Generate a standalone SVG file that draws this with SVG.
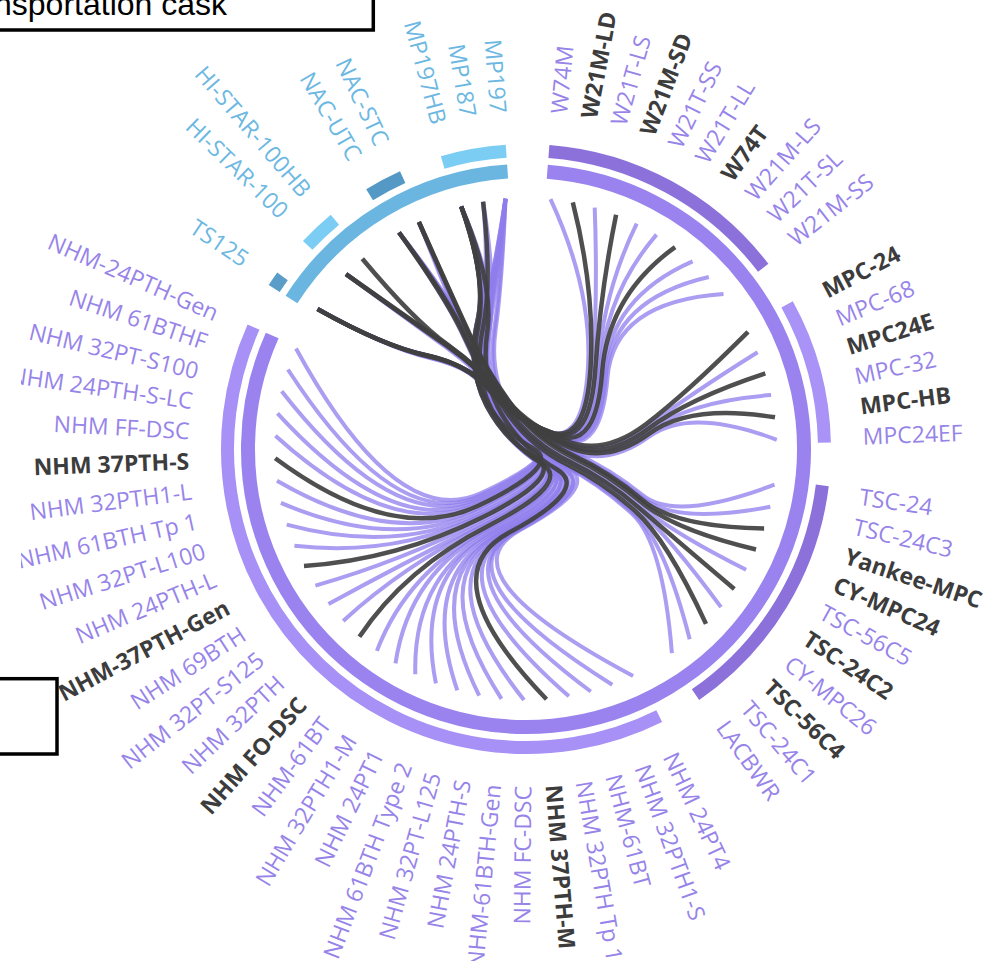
<svg xmlns="http://www.w3.org/2000/svg" width="1005" height="961" viewBox="0 0 1005 961">
<style>
.lbl{font-family:"Open Sans","Noto Sans","DejaVu Sans",sans-serif;font-size:23px}
.lt{fill:#9784e9}
.dk{fill:#3c3c3c;font-weight:700}
.bl{fill:#6cb8e2}
.ch{fill:none;stroke:#8f7cec;stroke-opacity:.75;stroke-width:4}
.chd{fill:none;stroke:#404040;stroke-opacity:.92;stroke-width:4.5}
.ring{fill:none;stroke-width:14}
.arc{fill:none;stroke-width:13}
.box{fill:none;stroke:#000;stroke-width:3.5}
</style>
<defs>
<clipPath id="chartclip"><rect x="21" y="0" width="984" height="961"/></clipPath>
</defs>
<rect x="0" y="0" width="1005" height="961" fill="#fff"/>

<g id="legend-transport">
<rect class="box" x="-10" y="-20" width="383.3" height="50"/>
<text x="-6" y="15" font-family="'Liberation Sans',Arial,sans-serif" font-size="32" fill="#000">nsportation cask</text>
</g>
<g id="legend-storage">
<rect class="box" x="-10" y="678.7" width="67" height="75.3"/>
</g>

<g id="ring">
<path id="ring-transport" class="ring" stroke="#6bb6e1" d="M291.5 299.6 A278 278 0 0 1 507.6 171.6"/>
<path id="ring-storage" class="ring" stroke="#9a83ee" d="M547.3 171.8 A278 278 0 1 1 272.2 335.5"/>
</g>

<g id="family-arcs">
<path id="f-TS125" class="arc" stroke="#5a9dc9" d="M274.2 288.6 A298.5 298.5 0 0 1 282.5 276.4"/>
<path id="f-HISTAR" class="arc" stroke="#7ccdf4" d="M307.7 245.4 A298.5 298.5 0 0 1 334.9 219.7"/>
<path id="f-NAC" class="arc" stroke="#5499c5" d="M369.6 194.8 A298.5 298.5 0 0 1 402.7 177.2"/>
<path id="f-MP" class="arc" stroke="#7ccdf4" d="M442.7 162.4 A298.5 298.5 0 0 1 506.2 151.2"/>
<path id="f-W" class="arc" stroke="#8b71d9" d="M548.9 151.4 A298.5 298.5 0 0 1 763.2 267.8"/>
<path id="f-MPC" class="arc" stroke="#a993f6" d="M787.1 304.3 A298.5 298.5 0 0 1 824.4 442.7"/>
<path id="f-TSC" class="arc" stroke="#8b71d9" d="M822.3 485.4 A298.5 298.5 0 0 1 695.5 694.7"/>
<path id="f-NHM" class="arc" stroke="#a790f6" d="M659.2 716.1 A298.5 298.5 0 0 1 253.5 327.1"/>
</g>

<g id="connectors">
<path class="ch" d="M550.5 199.2Q592.3 289.6 588 366.9T548 431.9T489.3 391.7T424.4 354.8T317.6 309.1"/>
<path class="ch" d="M594.7 207.6Q597.8 290.7 593 367.8T551.9 432.7T492.1 392.3T426.1 355.1T317.6 309.1"/>
<path class="ch" d="M636.7 223.7Q603 292.7 597.7 369.6T555.6 434.1T494.7 393.3T427.7 355.7T317.6 309.1"/>
<path class="ch" d="M656.5 234.6Q605.5 294.1 600 370.8T557.3 435T495.9 393.9T428.4 356.1T317.6 309.1"/>
<path class="ch" d="M692.6 261.3Q610 297.4 604 373.9T560.5 437.4T498.2 395.6T429.8 357.1T317.6 309.1"/>
<path class="ch" d="M708.8 277Q612 299.4 605.9 375.6T561.9 438.7T499.2 396.6T430.4 357.7T317.6 309.1"/>
<path class="ch" d="M723.5 294.1Q613.9 301.5 607.5 377.5T563.2 440.2T500.1 397.7T430.9 358.4T317.6 309.1"/>
<path class="ch" d="M757.6 352.2Q687.9 395.8 646.9 426.7T567.9 443.1T504.7 398.2T445.7 344.5T346 274.1"/>
<path class="ch" d="M771.1 395.1Q689.5 401.1 648.4 431.5T569.1 446.9T505.6 400.9T446.3 346.1T346 274.1"/>
<path class="ch" d="M776.8 439.8Q690.3 406.7 649.1 436.6T569.6 450.8T505.9 403.7T446.5 347.7T346 274.1"/>
<path class="ch" d="M774.5 484.7Q675.4 521.9 642.9 495.4T572.7 452.1T510.4 402.9T467.8 333.7T399 232.5"/>
<path class="ch" d="M770.3 506.8Q674.9 524.7 642.4 497.8T572.3 454.1T510.2 404.3T467.7 334.5T399 232.5"/>
<path class="ch" d="M746.1 569.7Q671.8 532.5 639.7 504.9T570.2 459.6T508.7 408.2T466.8 336.9T399 232.5"/>
<path class="ch" d="M689.7 639.3Q664.8 541.2 633.3 512.7T565.3 465.7T505.1 412.5T464.7 339.5T399 232.5"/>
<path class="ch" d="M721 607.1Q669.2 536.9 637.6 508.7T569.3 462.2T508.8 409.6T468.1 337.1T418.9 222"/>
<path class="ch" d="M671.9 653.2Q663.1 542.7 632.1 513.9T565 466.2T505.8 412.5T466.2 338.8T418.9 222"/>
<path class="ch" d="M612.3 684.7Q436.1 574.4 516.6 531T562.4 468T505.7 413.1T489.8 331.1T461.2 206.5"/>
<path class="ch" d="M568.9 696.3Q430.6 575.9 511.8 532.3T558.6 469T503 413.8T488.2 331.5T461.2 206.5"/>
<path class="ch" d="M501.5 698.8Q422.2 576.2 504.2 532.5T552.7 469.2T498.8 414T485.7 331.6T461.2 206.5"/>
<path class="ch" d="M479.2 695.6Q419.4 575.8 501.7 532.2T550.8 469T497.4 413.8T484.8 331.5T461.2 206.5"/>
<path class="ch" d="M435.9 683.3Q414 574.2 496.8 530.8T547 467.9T494.7 413T483.2 331.1T461.2 206.5"/>
<path class="ch" d="M395.5 663.4Q409 571.7 492.2 528.6T543.4 466.1T492.2 411.8T481.7 330.3T461.2 206.5"/>
<path class="ch" d="M343.2 621Q402.4 566.4 486.4 523.8T538.9 462.4T488.9 409.1T479.7 328.7T461.2 206.5"/>
<path class="ch" d="M315.4 585.6Q399 562 483.2 519.8T536.4 459.3T487.2 406.9T478.7 327.4T461.2 206.5"/>
<path class="ch" d="M294.4 545.8Q396.3 557 480.9 515.3T534.6 455.9T485.9 404.4T477.9 325.9T461.2 206.5"/>
<path class="ch" d="M280.9 502.9Q394.6 551.7 479.4 510.5T533.4 452.1T485 401.7T477.4 324.3T461.2 206.5"/>
<path class="ch" d="M277 480.7Q394.2 548.9 478.9 508T533.1 450.2T484.8 400.3T477.2 323.5T461.2 206.5"/>
<path class="ch" d="M277.5 413.3Q394.2 540.5 479 500.4T533.1 444.3T484.8 396.1T477.3 320.9T461.2 206.5"/>
<path class="ch" d="M287.9 369.5Q395.5 535 480.1 495.5T534 440.4T485.5 393.4T477.6 319.3T461.2 206.5"/>
<path class="ch" d="M296 348.5Q396.5 532.4 481.1 493.1T534.7 438.6T486 392.1T477.9 318.5T461.2 206.5"/>
<path class="ch" d="M524 700Q425.6 576.2 507.5 532.5T556.1 469T502.1 413.6T489 331.1T483.1 201.7"/>
<path class="ch" d="M275.4 435.7Q394.5 543.2 479.6 502.8T534.3 445.9T486.6 397.1T479.6 321.2T483.1 201.7"/>
<path class="ch" d="M633.1 676Q439.8 573.1 520.6 529.7T567 466.8T510.9 411.9T495.6 329.9T505.5 198.8"/>
<path class="ch" d="M590.8 691.5Q434.5 575.1 515.9 531.4T563.3 468.1T508.3 412.8T494 330.5T505.5 198.8"/>
<path class="ch" d="M457.3 690.4Q417.8 574.9 500.9 531.3T551.6 468T499.9 412.8T489 330.5T505.5 198.8"/>
<path class="ch" d="M415.3 674.3Q412.6 572.9 496.1 529.5T547.9 466.6T497.3 411.8T487.4 329.9T505.5 198.8"/>
<path class="ch" d="M376.9 650.9Q407.8 570 491.8 526.9T544.6 464.6T494.9 410.3T486 329T505.5 198.8"/>
<path class="ch" d="M328.5 603.9Q401.7 564.1 486.4 521.6T540.3 460.4T491.9 407.4T484.1 327.2T505.5 198.8"/>
<path class="ch" d="M286.7 524.6Q396.5 554.2 481.7 512.7T536.7 453.5T489.3 402.4T482.6 324.2T505.5 198.8"/>
<path class="ch" d="M281.7 391.2Q395.9 537.5 481.1 497.6T536.3 441.8T488.9 394.1T482.4 319.2T505.5 198.8"/>
<path class="chd" d="M572.8 202.4Q595 290 590.6 367.2T550 432.2T490.7 391.9T425.3 354.9T317.6 309.1"/>
<path class="chd" d="M616.1 214.7Q600.5 291.6 595.4 368.6T553.8 433.3T493.4 392.7T426.9 355.4T317.6 309.1"/>
<path class="chd" d="M675.1 247.1Q607.8 295.6 602.1 372.3T558.9 436.1T497.1 394.7T429.1 356.6T317.6 309.1"/>
<path class="chd" d="M748 331.9Q686.7 393.2 645.8 424.4T567.1 441.4T504.1 397T445.4 343.7T346 274.1"/>
<path class="chd" d="M765.3 373.4Q688.8 398.4 647.8 429.1T568.6 445T505.2 399.6T446 345.2T346 274.1"/>
<path class="chd" d="M775 417.3Q690.4 403.5 649.5 433.5T570.5 447.9T507.2 400.9T448.2 345.2T362.3 258.7"/>
<path class="chd" d="M764.1 528.5Q674.6 527.1 642.4 499.9T573.1 455.3T511.5 404.7T469.7 334.2T418.9 222"/>
<path class="chd" d="M756 549.5Q673.6 529.7 641.5 502.3T572.3 457.1T511 406T469.4 334.9T418.9 222"/>
<path class="chd" d="M734.3 589Q670.4 534.9 638.3 507.1T569.2 461.3T507.9 409.4T466.3 337.6T399 232.5"/>
<path class="chd" d="M706 623.9Q666.8 539.3 635.2 511T566.7 464.3T506.2 411.6T465.3 338.9T399 232.5"/>
<path class="chd" d="M546.5 699.2Q427.8 576.2 509.2 532.6T556.7 469.3T501.6 414T487.3 331.7T461.2 206.5"/>
<path class="chd" d="M359.4 636.7Q405 568.3 489 525.4T541.7 463.5T491.8 409.7T482.8 328.8T483.1 201.7"/>
<path class="chd" d="M304 566.1Q397.5 559.6 482 517.6T535.4 457.6T486.5 405.7T478.2 326.7T461.2 206.5"/>
<path class="chd" d="M275.2 458.2Q393.9 546.1 478.7 505.5T532.9 448.2T484.7 398.9T477.2 322.6T461.2 206.5"/>
</g>

<g id="labels" clip-path="url(#chartclip)">
<g id="n-W74M"><text class="lbl lt" x="863" y="449" dy=".35em" transform="rotate(-84.4 526 449)">W74M</text></g>
<g id="n-W21M-LD"><text class="lbl dk" x="863" y="449" dy=".35em" transform="rotate(-79.26 526 449)">W21M-LD</text></g>
<g id="n-W21T-LS"><text class="lbl lt" x="863" y="449" dy=".35em" transform="rotate(-74.11 526 449)">W21T-LS</text></g>
<g id="n-W21M-SD"><text class="lbl dk" x="863" y="449" dy=".35em" transform="rotate(-68.97 526 449)">W21M-SD</text></g>
<g id="n-W21T-SS"><text class="lbl lt" x="863" y="449" dy=".35em" transform="rotate(-63.83 526 449)">W21T-SS</text></g>
<g id="n-W21T-LL"><text class="lbl lt" x="863" y="449" dy=".35em" transform="rotate(-58.69 526 449)">W21T-LL</text></g>
<g id="n-W74T"><text class="lbl dk" x="863" y="449" dy=".35em" transform="rotate(-53.54 526 449)">W74T</text></g>
<g id="n-W21M-LS"><text class="lbl lt" x="863" y="449" dy=".35em" transform="rotate(-48.4 526 449)">W21M-LS</text></g>
<g id="n-W21T-SL"><text class="lbl lt" x="863" y="449" dy=".35em" transform="rotate(-43.26 526 449)">W21T-SL</text></g>
<g id="n-W21M-SS"><text class="lbl lt" x="863" y="449" dy=".35em" transform="rotate(-38.11 526 449)">W21M-SS</text></g>
<g id="n-MPC-24"><text class="lbl dk" x="863" y="449" dy=".35em" transform="rotate(-27.83 526 449)">MPC-24</text></g>
<g id="n-MPC-68"><text class="lbl lt" x="863" y="449" dy=".35em" transform="rotate(-22.69 526 449)">MPC-68</text></g>
<g id="n-MPC24E"><text class="lbl dk" x="863" y="449" dy=".35em" transform="rotate(-17.54 526 449)">MPC24E</text></g>
<g id="n-MPC-32"><text class="lbl lt" x="863" y="449" dy=".35em" transform="rotate(-12.4 526 449)">MPC-32</text></g>
<g id="n-MPC-HB"><text class="lbl dk" x="863" y="449" dy=".35em" transform="rotate(-7.26 526 449)">MPC-HB</text></g>
<g id="n-MPC24EF"><text class="lbl lt" x="863" y="449" dy=".35em" transform="rotate(-2.11 526 449)">MPC24EF</text></g>
<g id="n-TSC-24"><text class="lbl lt" x="863" y="449" dy=".35em" transform="rotate(8.17 526 449)">TSC-24</text></g>
<g id="n-TSC-24C3"><text class="lbl lt" x="863" y="449" dy=".35em" transform="rotate(13.31 526 449)">TSC-24C3</text></g>
<g id="n-Yankee-MPC"><text class="lbl dk" x="863" y="449" dy=".35em" transform="rotate(18.46 526 449)">Yankee-MPC</text></g>
<g id="n-CY-MPC24"><text class="lbl dk" x="863" y="449" dy=".35em" transform="rotate(23.6 526 449)">CY-MPC24</text></g>
<g id="n-TSC-56C5"><text class="lbl lt" x="863" y="449" dy=".35em" transform="rotate(28.74 526 449)">TSC-56C5</text></g>
<g id="n-TSC-24C2"><text class="lbl dk" x="863" y="449" dy=".35em" transform="rotate(33.89 526 449)">TSC-24C2</text></g>
<g id="n-CY-MPC26"><text class="lbl lt" x="863" y="449" dy=".35em" transform="rotate(39.03 526 449)">CY-MPC26</text></g>
<g id="n-TSC-56C4"><text class="lbl dk" x="863" y="449" dy=".35em" transform="rotate(44.17 526 449)">TSC-56C4</text></g>
<g id="n-TSC-24C1"><text class="lbl lt" x="863" y="449" dy=".35em" transform="rotate(49.31 526 449)">TSC-24C1</text></g>
<g id="n-LACBWR"><text class="lbl lt" x="863" y="449" dy=".35em" transform="rotate(54.46 526 449)">LACBWR</text></g>
<g id="n-NHM-24PT4"><text class="lbl lt" x="863" y="449" dy=".35em" transform="rotate(64.74 526 449)">NHM 24PT4</text></g>
<g id="n-NHM-32PTH1-S"><text class="lbl lt" x="863" y="449" dy=".35em" transform="rotate(69.89 526 449)">NHM 32PTH1-S</text></g>
<g id="n-NHM-61BT-a"><text class="lbl lt" x="863" y="449" dy=".35em" transform="rotate(75.03 526 449)">NHM-61BT</text></g>
<g id="n-NHM-32PTH-Tp-1"><text class="lbl lt" x="863" y="449" dy=".35em" transform="rotate(80.17 526 449)">NHM 32PTH Tp 1</text></g>
<g id="n-NHM-37PTH-M"><text class="lbl dk" x="863" y="449" dy=".35em" transform="rotate(85.31 526 449)">NHM 37PTH-M</text></g>
<g id="n-NHM-FC-DSC"><text class="lbl lt" x="863" y="449" dy=".35em" text-anchor="end" transform="rotate(90.46 526 449) rotate(180 863 449)">NHM FC-DSC</text></g>
<g id="n-NHM-61BTH-Gen"><text class="lbl lt" x="863" y="449" dy=".35em" text-anchor="end" transform="rotate(95.6 526 449) rotate(180 863 449)">NHM-61BTH-Gen</text></g>
<g id="n-NHM-24PTH-S"><text class="lbl lt" x="863" y="449" dy=".35em" text-anchor="end" transform="rotate(100.74 526 449) rotate(180 863 449)">NHM 24PTH-S</text></g>
<g id="n-NHM-32PT-L125"><text class="lbl lt" x="863" y="449" dy=".35em" text-anchor="end" transform="rotate(105.89 526 449) rotate(180 863 449)">NHM 32PT-L125</text></g>
<g id="n-NHM-61BTH-Type-2"><text class="lbl lt" x="863" y="449" dy=".35em" text-anchor="end" transform="rotate(111.03 526 449) rotate(180 863 449)">NHM 61BTH Type 2</text></g>
<g id="n-NHM-24PT1"><text class="lbl lt" x="863" y="449" dy=".35em" text-anchor="end" transform="rotate(116.17 526 449) rotate(180 863 449)">NHM 24PT1</text></g>
<g id="n-NHM-32PTH1-M"><text class="lbl lt" x="863" y="449" dy=".35em" text-anchor="end" transform="rotate(121.31 526 449) rotate(180 863 449)">NHM 32PTH1-M</text></g>
<g id="n-NHM-61BT-b"><text class="lbl lt" x="863" y="449" dy=".35em" text-anchor="end" transform="rotate(126.46 526 449) rotate(180 863 449)">NHM-61BT</text></g>
<g id="n-NHM-FO-DSC"><text class="lbl dk" x="863" y="449" dy=".35em" text-anchor="end" transform="rotate(131.6 526 449) rotate(180 863 449)">NHM FO-DSC</text></g>
<g id="n-NHM-32PTH"><text class="lbl lt" x="863" y="449" dy=".35em" text-anchor="end" transform="rotate(136.74 526 449) rotate(180 863 449)">NHM 32PTH</text></g>
<g id="n-NHM-32PT-S125"><text class="lbl lt" x="863" y="449" dy=".35em" text-anchor="end" transform="rotate(141.89 526 449) rotate(180 863 449)">NHM 32PT-S125</text></g>
<g id="n-NHM-69BTH"><text class="lbl lt" x="863" y="449" dy=".35em" text-anchor="end" transform="rotate(147.03 526 449) rotate(180 863 449)">NHM 69BTH</text></g>
<g id="n-NHM-37PTH-Gen"><text class="lbl dk" x="863" y="449" dy=".35em" text-anchor="end" transform="rotate(152.17 526 449) rotate(180 863 449)">NHM-37PTH-Gen</text></g>
<g id="n-NHM-24PTH-L"><text class="lbl lt" x="863" y="449" dy=".35em" text-anchor="end" transform="rotate(157.31 526 449) rotate(180 863 449)">NHM 24PTH-L</text></g>
<g id="n-NHM-32PT-L100"><text class="lbl lt" x="863" y="449" dy=".35em" text-anchor="end" transform="rotate(162.46 526 449) rotate(180 863 449)">NHM 32PT-L100</text></g>
<g id="n-NHM-61BTH-Tp-1"><text class="lbl lt" x="863" y="449" dy=".35em" text-anchor="end" transform="rotate(167.6 526 449) rotate(180 863 449)">NHM 61BTH Tp 1</text></g>
<g id="n-NHM-32PTH1-L"><text class="lbl lt" x="863" y="449" dy=".35em" text-anchor="end" transform="rotate(172.74 526 449) rotate(180 863 449)">NHM 32PTH1-L</text></g>
<g id="n-NHM-37PTH-S"><text class="lbl dk" x="863" y="449" dy=".35em" text-anchor="end" transform="rotate(177.89 526 449) rotate(180 863 449)">NHM 37PTH-S</text></g>
<g id="n-NHM-FF-DSC"><text class="lbl lt" x="863" y="449" dy=".35em" text-anchor="end" transform="rotate(183.03 526 449) rotate(180 863 449)">NHM FF-DSC</text></g>
<g id="n-NHM-24PTH-S-LC"><text class="lbl lt" x="863" y="449" dy=".35em" text-anchor="end" transform="rotate(188.17 526 449) rotate(180 863 449)">NHM 24PTH-S-LC</text></g>
<g id="n-NHM-32PT-S100"><text class="lbl lt" x="863" y="449" dy=".35em" text-anchor="end" transform="rotate(193.31 526 449) rotate(180 863 449)">NHM 32PT-S100</text></g>
<g id="n-NHM-61BTHF"><text class="lbl lt" x="863" y="449" dy=".35em" text-anchor="end" transform="rotate(198.46 526 449) rotate(180 863 449)">NHM 61BTHF</text></g>
<g id="n-NHM-24PTH-Gen"><text class="lbl lt" x="863" y="449" dy=".35em" text-anchor="end" transform="rotate(203.6 526 449) rotate(180 863 449)">NHM-24PTH-Gen</text></g>
<g id="n-TS125"><text class="lbl bl" x="863" y="449" dy=".35em" text-anchor="end" transform="rotate(213.89 526 449) rotate(180 863 449)">TS125</text></g>
<g id="n-HI-STAR-100"><text class="lbl bl" x="863" y="449" dy=".35em" text-anchor="end" transform="rotate(224.17 526 449) rotate(180 863 449)">HI-STAR-100</text></g>
<g id="n-HI-STAR-100HB"><text class="lbl bl" x="863" y="449" dy=".35em" text-anchor="end" transform="rotate(229.31 526 449) rotate(180 863 449)">HI-STAR-100HB</text></g>
<g id="n-NAC-UTC"><text class="lbl bl" x="863" y="449" dy=".35em" text-anchor="end" transform="rotate(239.6 526 449) rotate(180 863 449)">NAC-UTC</text></g>
<g id="n-NAC-STC"><text class="lbl bl" x="863" y="449" dy=".35em" text-anchor="end" transform="rotate(244.74 526 449) rotate(180 863 449)">NAC-STC</text></g>
<g id="n-MP197HB"><text class="lbl bl" x="863" y="449" dy=".35em" text-anchor="end" transform="rotate(255.03 526 449) rotate(180 863 449)">MP197HB</text></g>
<g id="n-MP187"><text class="lbl bl" x="863" y="449" dy=".35em" text-anchor="end" transform="rotate(260.17 526 449) rotate(180 863 449)">MP187</text></g>
<g id="n-MP197"><text class="lbl bl" x="863" y="449" dy=".35em" text-anchor="end" transform="rotate(265.31 526 449) rotate(180 863 449)">MP197</text></g>
</g>
</svg>
